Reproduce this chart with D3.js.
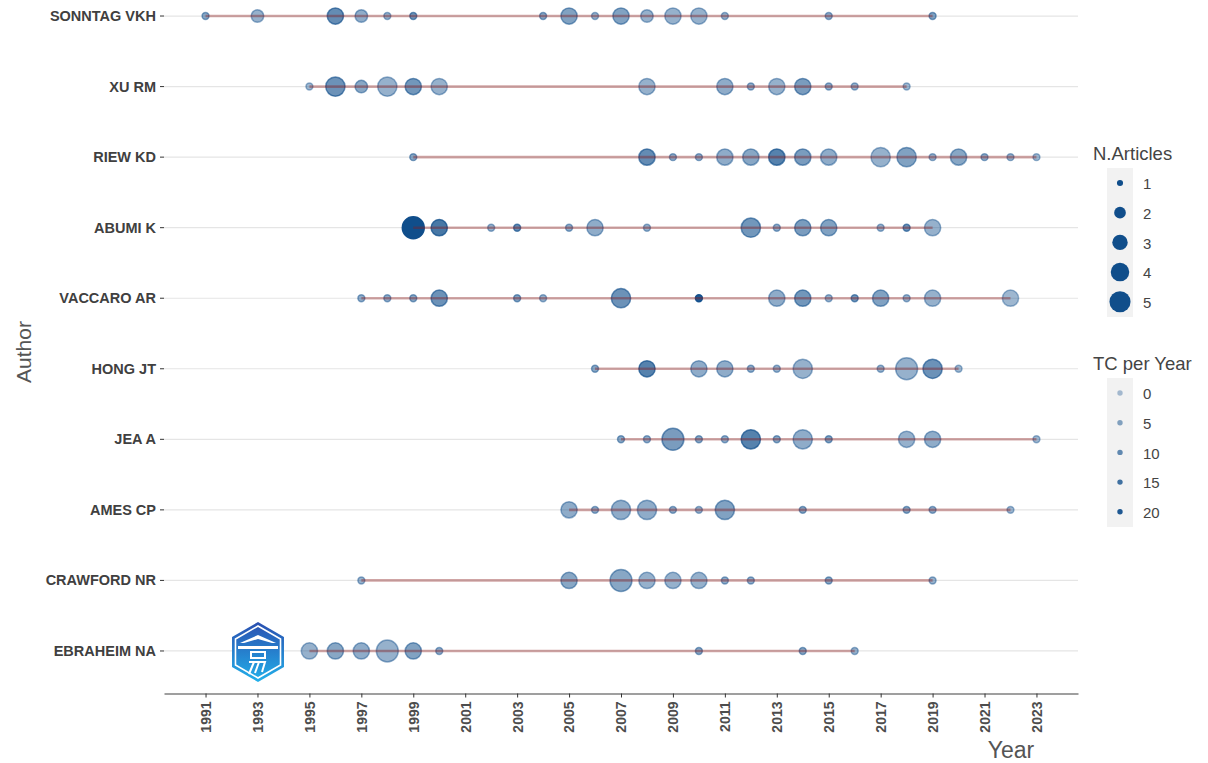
<!DOCTYPE html>
<html>
<head>
<meta charset="utf-8">
<script src="https://cdn.jsdelivr.net/npm/d3@7"></script>
<style>
  body { margin: 0; background: #fff; }
  svg { display: block; font-family: "Liberation Sans", Arial, sans-serif; }
</style>
</head>
<body>
<svg id="chart" width="1208" height="763"></svg>
<script>
// authors, top to bottom
const authors = ["SONNTAG VKH", "XU RM", "RIEW KD", "ABUMI K", "VACCARO AR",
                 "HONG JT", "JEA A", "AMES CP", "CRAWFORD NR", "EBRAHEIM NA"];

// each point: [year, N.Articles, TC per Year]
const sonntagVKH = [[1991,1,5],[1993,2,3],[1996,3,10],[1997,2,4],[1998,1,3],[1999,1,8],
  [2004,1,5],[2005,3,6],[2006,1,3],[2007,3,6],[2008,2,3],[2009,3,3],[2010,3,3],
  [2011,1,3],[2015,1,4],[2019,1,6]];
const xuRM = [[1995,1,2],[1996,4,9],[1997,2,5],[1998,4,3],[1999,3,8],[2000,3,3],
  [2008,3,3],[2011,3,4],[2012,1,4],[2013,3,3],[2014,3,7],[2015,1,4],[2016,1,3],[2018,1,2]];
const riewKD = [[1999,1,5],[2008,3,10],[2009,1,4],[2010,1,4],[2011,3,4],[2012,3,5],
  [2013,3,12],[2014,3,7],[2015,3,4],[2017,4,3],[2018,4,6],[2019,1,3],[2020,3,5],
  [2021,1,4],[2022,1,3],[2023,1,2]];
const abumiK = [[1999,5,22],[2000,3,14],[2002,1,3],[2003,1,10],[2005,1,4],[2006,3,4],
  [2008,1,3],[2012,4,8],[2013,1,4],[2014,3,7],[2015,3,6],[2017,1,3],[2018,1,9],[2019,3,3]];
const vaccaroAR = [[1997,1,4],[1998,1,4],[1999,1,5],[2000,3,9],[2003,1,6],[2004,1,3],
  [2007,4,9],[2010,1,20],[2013,3,4],[2014,3,8],[2015,1,3],[2016,1,8],[2017,3,6],
  [2018,1,3],[2019,3,3],[2022,3,2]];
const hongJT = [[2006,1,5],[2008,3,12],[2010,3,4],[2011,3,4],[2012,1,4],[2013,1,3],
  [2014,4,3],[2017,1,3],[2018,5,3],[2019,4,9],[2020,1,2]];
const jeaA = [[2007,1,5],[2008,1,4],[2009,5,7],[2010,1,5],[2011,1,4],[2012,4,12],
  [2013,1,5],[2014,4,4],[2015,1,6],[2018,3,3],[2019,3,4],[2023,1,2]];
const amesCP = [[2005,3,4],[2006,1,4],[2007,4,4],[2008,4,4],[2009,1,4],[2010,1,3],
  [2011,4,6],[2014,1,5],[2018,1,5],[2019,1,4],[2022,1,2]];
const crawfordNR = [[1997,1,3],[2005,3,5],[2007,5,5],[2008,3,3],[2009,3,3],[2010,3,3],
  [2011,1,4],[2012,1,4],[2015,1,5],[2019,1,3]];
const ebraheimNA = [[1995,3,3],[1996,3,5],[1997,3,4],[1998,5,3],[1999,3,6],[2000,1,4],
  [2010,1,5],[2014,1,5],[2016,1,3]];

const pointsByAuthor = [sonntagVKH, xuRM, riewKD, abumiK, vaccaroAR,
                        hongJT, jeaA, amesCP, crawfordNR, ebraheimNA];

const yearTicks = [1991,1993,1995,1997,1999,2001,2003,2005,2007,2009,2011,2013,2015,2017,2019,2021,2023];
const sizeLegend = [1, 2, 3, 4, 5];
const tcLegend = [0, 5, 10, 15, 20];

const BLUE = "#104E8B";   // dodgerblue4
const RED = "#8B1A1A";    // firebrick4

const svg = d3.select("#chart");

const x = d3.scaleLinear().domain([1989.4, 2024.6]).range([164, 1078]);
const y = d3.scalePoint().domain(authors).range([-26.3, 693.3]).padding(0.6);
const area = d3.scaleLinear().domain([1, 5]).range([12, 120]);
const r = n => Math.sqrt(area(n));
const alpha = d3.scaleLinear().domain([0, 22]).range([0.35, 1]).clamp(true);

const rows = authors.map((a, i) => ({
  author: a,
  points: pointsByAuthor[i].map(p => ({ author: a, year: p[0], n: p[1], tc: p[2] }))
}));

// horizontal grid
svg.append("g")
  .selectAll("line")
  .data(authors)
  .join("line")
  .attr("x1", x.range()[0]).attr("x2", x.range()[1])
  .attr("y1", d => y(d)).attr("y2", d => y(d))
  .attr("stroke", "#e5e5e5").attr("stroke-width", 1.2);

// points
svg.append("g")
  .selectAll("circle")
  .data(rows.flatMap(d => d.points))
  .join("circle")
  .attr("cx", d => x(d.year))
  .attr("cy", d => y(d.author))
  .attr("r", d => r(d.n))
  .attr("fill", BLUE).attr("fill-opacity", d => alpha(d.tc))
  .attr("stroke", BLUE).attr("stroke-opacity", d => alpha(d.tc))
  .attr("stroke-width", 1.5);

// production span lines (drawn over the points)
svg.append("g")
  .selectAll("line")
  .data(rows)
  .join("line")
  .attr("x1", d => x(d3.min(d.points, p => p.year)))
  .attr("x2", d => x(d3.max(d.points, p => p.year)))
  .attr("y1", d => y(d.author)).attr("y2", d => y(d.author))
  .attr("stroke", RED).attr("stroke-opacity", 0.38).attr("stroke-width", 2.6);

// y axis: ticks + labels
const yAxis = svg.append("g");
yAxis.selectAll("line")
  .data(authors)
  .join("line")
  .attr("x1", 160).attr("x2", 164)
  .attr("y1", d => y(d)).attr("y2", d => y(d))
  .attr("stroke", "#333").attr("stroke-width", 1);
yAxis.selectAll("text")
  .data(authors)
  .join("text")
  .attr("x", 156).attr("y", d => y(d)).attr("dy", "0.35em")
  .attr("text-anchor", "end")
  .attr("font-size", 14.5).attr("font-weight", "bold").attr("fill", "#404040")
  .text(d => d);

// x axis
const xAxis = svg.append("g")
  .attr("transform", "translate(0,693.5)")
  .call(d3.axisBottom(x).tickValues(yearTicks).tickFormat(d3.format("d")).tickSize(4).tickSizeOuter(0));
xAxis.select(".domain").attr("stroke", "#7f7f7f").attr("stroke-width", 1.5);
xAxis.selectAll(".tick line").attr("stroke", "#333");
xAxis.selectAll(".tick text")
  .attr("transform", "rotate(-90)")
  .attr("text-anchor", "end")
  .attr("x", -8).attr("y", 0).attr("dy", "0.35em")
  .attr("font-family", "Liberation Sans, Arial, sans-serif")
  .attr("font-size", 14).attr("font-weight", "bold").attr("fill", "#4d4d4d");

// axis titles
svg.append("text")
  .attr("transform", "translate(31,352) rotate(-90)")
  .attr("text-anchor", "middle")
  .attr("font-size", 21).attr("fill", "#555")
  .text("Author");
svg.append("text")
  .attr("x", 1011).attr("y", 758)
  .attr("text-anchor", "middle")
  .attr("font-size", 23).attr("fill", "#555")
  .text("Year");

// legend: N.Articles
const leg1 = svg.append("g");
leg1.append("text").attr("x", 1093).attr("y", 160)
  .attr("font-size", 18.5).attr("fill", "#444").text("N.Articles");
leg1.append("rect").attr("x", 1107).attr("y", 168).attr("width", 26).attr("height", 149)
  .attr("fill", "#f2f2f2");
leg1.selectAll("circle")
  .data(sizeLegend)
  .join("circle")
  .attr("cx", 1120).attr("cy", (d, i) => 183 + i * 29.7)
  .attr("r", d => r(d) - 0.4)
  .attr("fill", BLUE);
leg1.selectAll("text.lab")
  .data(sizeLegend)
  .join("text").attr("class", "lab")
  .attr("x", 1143).attr("y", (d, i) => 184 + i * 29.7).attr("dy", "0.35em")
  .attr("font-size", 15).attr("fill", "#444")
  .text(d => d);

// legend: TC per Year
const leg2 = svg.append("g");
leg2.append("text").attr("x", 1093).attr("y", 370)
  .attr("font-size", 18.5).attr("fill", "#444").text("TC per Year");
leg2.append("rect").attr("x", 1107).attr("y", 378).attr("width", 26).attr("height", 149)
  .attr("fill", "#f2f2f2");
leg2.selectAll("circle")
  .data(tcLegend)
  .join("circle")
  .attr("cx", 1120).attr("cy", (d, i) => 393 + i * 29.7)
  .attr("r", 2.7)
  .attr("fill", BLUE).attr("fill-opacity", d => alpha(d));
leg2.selectAll("text.lab")
  .data(tcLegend)
  .join("text").attr("class", "lab")
  .attr("x", 1143).attr("y", (d, i) => 394 + i * 29.7).attr("dy", "0.35em")
  .attr("font-size", 15).attr("fill", "#444")
  .text(d => d);

// watermark logo (hexagon)
const defs = svg.append("defs");
const grad = defs.append("linearGradient").attr("id", "logoGrad")
  .attr("x1", 0).attr("y1", 0).attr("x2", 0).attr("y2", 1);
grad.append("stop").attr("offset", "0%").attr("stop-color", "#2a4fb0");
grad.append("stop").attr("offset", "100%").attr("stop-color", "#22b0ea");
const hex = R => d3.range(6).map(k => {
  const a = (-90 + 60 * k) * Math.PI / 180;
  return [R * Math.cos(a), R * Math.sin(a)];
});
const logo = svg.append("g").attr("transform", "translate(258,652)");
logo.append("polygon").attr("points", hex(30).join(" ")).attr("fill", "url(#logoGrad)");
logo.append("polygon").attr("points", hex(26).join(" "))
  .attr("fill", "none").attr("stroke", "#fff").attr("stroke-width", 1.6);
logo.append("path").attr("d", "M-18,-9 L0,-17 L18,-9 L14,-9 L0,-13 L-14,-9 Z").attr("fill", "#fff");
logo.append("rect").attr("x", -20).attr("y", -6).attr("width", 40).attr("height", 3).attr("fill", "#fff");
logo.append("path")
  .attr("d", "M-7,0 h14 v6 h-14 Z M-9,10 h16 l-3,10 M-4,10 l-5,12 M1,10 l-4,11")
  .attr("fill", "none").attr("stroke", "#fff").attr("stroke-width", 2);
</script>
</body>
</html>
